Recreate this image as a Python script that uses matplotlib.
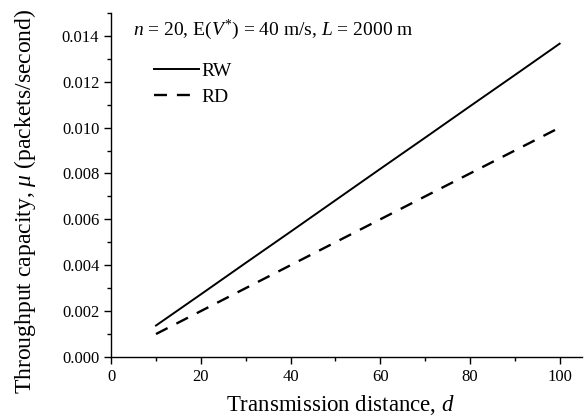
import matplotlib
matplotlib.use("Agg")
import matplotlib.pyplot as plt
import matplotlib.ticker as ticker

plt.rcParams["font.family"] = ["Liberation Serif", "DejaVu Serif"]
plt.rcParams["mathtext.fontset"] = "custom"
plt.rcParams["mathtext.rm"] = "Liberation Serif"
plt.rcParams["mathtext.it"] = "Liberation Serif:italic"

distance = [10, 20, 30, 40, 50, 60, 70, 80, 90, 100]
rw = [0.00137, 0.00273, 0.00410, 0.00546, 0.00683, 0.00820, 0.00956, 0.01093, 0.01229, 0.01366]
rd = [0.00100, 0.00200, 0.00300, 0.00400, 0.00500, 0.00600, 0.00700, 0.00800, 0.00900, 0.01000]

fig = plt.figure(figsize=(5.85, 4.17), dpi=100)
ax = fig.add_axes([0.19, 0.144, 0.805, 0.825])

ax.plot(distance, rw, color="black", lw=1.4, label="RW")
ax.plot(distance, rd, color="black", lw=1.7, linestyle=(0, (5.5, 4.2)), label="RD")

ax.set_xlim(0, 105)
ax.set_ylim(0, 0.015)
ax.xaxis.set_major_locator(ticker.MultipleLocator(20))
ax.xaxis.set_minor_locator(ticker.MultipleLocator(10))
ax.yaxis.set_major_locator(ticker.MultipleLocator(0.002))
ax.yaxis.set_minor_locator(ticker.MultipleLocator(0.001))
ax.yaxis.set_major_formatter(ticker.FormatStrFormatter("%.3f"))

for side in ("top", "right"):
    ax.spines[side].set_visible(False)
for side in ("left", "bottom"):
    ax.spines[side].set_linewidth(1.0)

ax.tick_params(which="major", direction="out", length=5, width=1.0, labelsize=12)
ax.tick_params(which="minor", direction="out", length=3, width=1.0)

ax.set_xlabel("Transmission distance, $\\it{d}$", fontsize=16.5)
ax.xaxis.set_label_coords(0.487, -0.105)
ax.set_ylabel("Throughput capacity, $\\mu$ (packets/second)", fontsize=17)
ax.yaxis.set_label_coords(-0.155, 0.453)

ax.text(0.047, 0.952, "$\\it{n}$ = 20, E($\\it{V}^{*}$) = 40 m/s, $\\it{L}$ = 2000 m",
        transform=ax.transAxes, ha="left", va="center", fontsize=14)

ax.legend(loc="upper left", bbox_to_anchor=(0.075, 0.88), frameon=False, fontsize=14,
          handlelength=2.3, handletextpad=0.15, labelspacing=0.45, borderaxespad=0.0)

fig.savefig("out.png", dpi=100)
